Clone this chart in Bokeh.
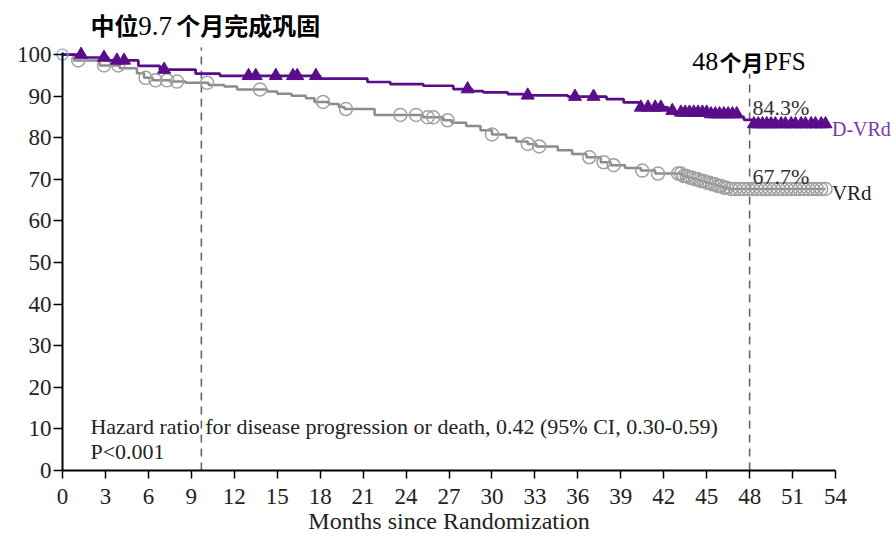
import numpy as np
from bokeh.plotting import figure
from bokeh.models import Label, Range1d
from bokeh.embed import file_html
from bokeh.resources import INLINE

# Kaplan-Meier estimates: step times (months) and % progression-free after each step
dvrd_time = [0, 1.5, 3.2, 5.3, 6.8, 9.3, 11.0, 18.0, 21.3, 22.9, 25.2, 27.3, 28.6, 29.4,
             31.1, 32.2, 35.3, 38.0, 39.2, 40.3, 42.3, 42.7, 45.1, 47.2, 47.6, 48.2, 53.3]
dvrd_surv = [100, 99.3, 98.6, 97.3, 96.4, 95.4, 94.9, 94.2, 93.4, 92.9, 92.5, 91.7, 91.2, 90.9,
             90.5, 90.2, 89.9, 89.3, 88.5, 87.3, 86.5, 86.1, 85.7, 85.0, 84.3, 83.3, 83.3]

vrd_time = [0, 0.8, 2.6, 4.0, 5.2, 5.7, 6.3, 7.5, 8.6, 10.2, 11.3, 12.2, 14.3, 15.0, 16.0,
            17.0, 17.6, 18.6, 19.3, 19.7, 21.8, 25.2, 26.6, 27.2, 28.2, 29.2, 30.0, 31.0,
            31.7, 32.5, 33.1, 34.6, 35.6, 36.6, 37.6, 38.3, 39.3, 40.4, 41.4, 43.3, 43.7,
            44.1, 44.5, 44.9, 45.3, 45.7, 46.1, 46.5, 53.3]
vrd_surv = [100, 98.6, 97.4, 96.7, 95.5, 94.4, 93.8, 93.5, 93.2, 92.7, 92.3, 91.6, 91.1, 90.6,
            90.1, 89.5, 88.6, 88.1, 87.4, 86.9, 85.5, 84.9, 84.2, 83.6, 82.8, 81.8, 80.8, 80.0,
            79.1, 78.5, 77.9, 77.0, 76.1, 75.3, 74.1, 73.4, 72.7, 72.1, 71.4, 70.8, 70.4,
            70.0, 69.6, 69.2, 68.8, 68.4, 68.0, 67.7, 67.7]

# Censoring times (months)
dvrd_censor = [1.3, 2.9, 3.8, 4.3, 7.1, 13.0, 13.5, 14.9, 16.1, 16.4, 17.7, 28.3, 32.5, 35.8,
               37.1, 40.4, 40.9, 41.4, 41.8, 42.6, 43.2, 43.5, 43.8, 44.1, 44.4, 44.7, 45.0,
               45.3, 45.6, 45.9, 46.2, 46.5, 46.8, 47.1, 48.3, 48.6, 48.9, 49.2, 49.5, 49.8,
               50.2, 50.5, 50.9, 51.2, 51.6, 51.9, 52.3, 52.6, 53.0, 53.3]
vrd_censor = [1.1, 2.9, 3.9, 5.8, 6.5, 7.3, 8.0, 10.1, 13.8, 18.2, 19.8, 23.6, 24.7, 25.5,
              25.9, 26.9, 30.0, 32.5, 33.3, 36.8, 37.8, 38.5, 40.5, 41.6, 43.0, 43.2, 43.4,
              43.6, 43.8, 44.0, 44.2, 44.4, 44.6, 44.8, 45.0, 45.2, 45.4, 45.6, 45.8, 46.0,
              46.2, 46.4, 46.7, 47.0, 47.3, 47.6, 47.9, 48.2, 48.5, 48.8, 49.1, 49.4, 49.7,
              50.0, 50.3, 50.6, 50.9, 51.2, 51.5, 51.8, 52.1, 52.4, 52.7, 53.0, 53.3]

x_ticks = [0, 3, 6, 9, 12, 15, 18, 21, 24, 27, 30, 33, 36, 39, 42, 45, 48, 51, 54]
y_ticks = [0, 10, 20, 30, 40, 50, 60, 70, 80, 90, 100]

consolidation_month = 9.7
landmark_month = 48
hazard_text = "Hazard ratio for disease progression or death, 0.42 (95% CI, 0.30-0.59)"
p_text = "P<0.001"
x_title = "Months since Randomization"

PURPLE = "#5a0d8a"
PURPLE_LABEL = "#7a3aa8"
GRAY_LINE = "#8c8c8c"
GRAY_MARK = "#a0a0a0"
SERIF = "Liberation Serif"
CJK = "Noto Sans CJK SC"


def surv_at(times, surv, t):
    idx = np.searchsorted(np.asarray(times), np.asarray(t), side="right") - 1
    return np.asarray(surv)[idx]


# The plotting frame fills the whole canvas so that the headline, curve names and axis
# title all sit inside it; both axes are pinned at 0 and bounded to the
# 0-54 month / 0-100 % region.
p = figure(width=893, height=533, output_backend="svg", toolbar_location=None,
           x_range=Range1d(-4.331, 58.05), y_range=Range1d(-15.15, 113.0),
           min_border_left=0, min_border_right=0, min_border_top=0, min_border_bottom=0)
p.outline_line_color = None
p.grid.visible = False
p.background_fill_color = "white"
p.border_fill_color = "white"

for ax in (p.xaxis, p.yaxis):
    ax.fixed_location = 0
    ax.axis_line_width = 2
    ax.axis_line_color = "black"
    ax.major_tick_line_width = 1.5
    ax.major_tick_line_color = "black"
    ax.major_tick_in = 0
    ax.minor_tick_line_color = None
    ax.major_label_text_font = SERIF
    ax.major_label_text_font_size = "23px"
    ax.major_label_text_color = "#222222"

p.xaxis.ticker = x_ticks
p.yaxis.ticker = y_ticks
p.xaxis.bounds = (0, 54)
p.yaxis.bounds = (0, 100.6)
p.xaxis.major_tick_out = 8
p.xaxis.major_label_standoff = 11
p.yaxis.major_tick_out = 9
p.yaxis.major_label_standoff = 2
p.xaxis.axis_label = x_title
p.xaxis.axis_label_text_font = SERIF
p.xaxis.axis_label_text_font_size = "24px"
p.xaxis.axis_label_text_font_style = "normal"
p.xaxis.axis_label_text_color = "#222222"
p.xaxis.axis_label_standoff = 0

# reference lines: end of consolidation and 48-month landmark
p.segment(x0=[consolidation_month], y0=[0], x1=[consolidation_month], y1=[101.7],
          line_color="#666666", line_width=1.6, line_dash="8 6")
p.segment(x0=[landmark_month], y0=[0], x1=[landmark_month], y1=[95.4],
          line_color="#666666", line_width=1.6, line_dash="8 6")

# VRd curve with censor marks
p.step(vrd_time, vrd_surv, mode="after", line_color=GRAY_LINE, line_width=2.5)
p.scatter(vrd_censor, surv_at(vrd_time, vrd_surv, vrd_censor), marker="circle", size=13,
          fill_color=None, line_color=GRAY_MARK, line_width=1.5)

# D-VRd curve with censor marks
p.step(dvrd_time, dvrd_surv, mode="after", line_color=PURPLE, line_width=2.7)
p.scatter(dvrd_censor, surv_at(dvrd_time, dvrd_surv, dvrd_censor), marker="triangle", size=13,
          fill_color=PURPLE, line_color=PURPLE, line_width=1)

p.scatter([dvrd_time[0]], [dvrd_surv[0]], marker="circle", size=11,
          fill_color=None, line_color="#7fa8d8", line_width=1.2)


def label(x, y, text, font=SERIF, size="22px", color="#222222", style="normal", align="left"):
    p.add_layout(Label(x=x, y=y, text=text, text_font=font, text_font_size=size,
                       text_color=color, text_font_style=style, text_align=align,
                       text_baseline="middle"))


# headline
label(1.95, 107.3, "中位", font=CJK, size="24px", style="bold", color="black")
label(5.3, 106.8, f"{consolidation_month}", size="27px", color="black")
label(7.95, 107.3, "个月完成巩固", font=CJK, size="24px", style="bold", color="black")

# landmark heading
label(44.0, 98.3, f"{landmark_month}", size="26px", color="black")
label(45.9, 98.4, "个月", font=CJK, size="22px", style="bold", color="black")
label(49.0, 98.4, "PFS", size="25px", color="black")

# 48-month estimates
dvrd_48 = float(surv_at(dvrd_time, dvrd_surv, landmark_month))
vrd_48 = float(surv_at(vrd_time, vrd_surv, landmark_month))
label(48.2, 87.2, f"{dvrd_48:.1f}%", size="22px", color="#333333")
label(48.2, 70.8, f"{vrd_48:.1f}%", size="22px", color="#333333")

# curve names
label(53.75, 82.2, "D-VRd", size="20px", color=PURPLE_LABEL)
label(53.75, 66.8, "VRd", size="21px", color="#222222")

# statistics
label(1.95, 10.6, hazard_text, size="22px", color="#222222")
label(1.95, 4.6, p_text, size="22px", color="#222222")

open("out.html", "w").write(file_html(p, INLINE))
